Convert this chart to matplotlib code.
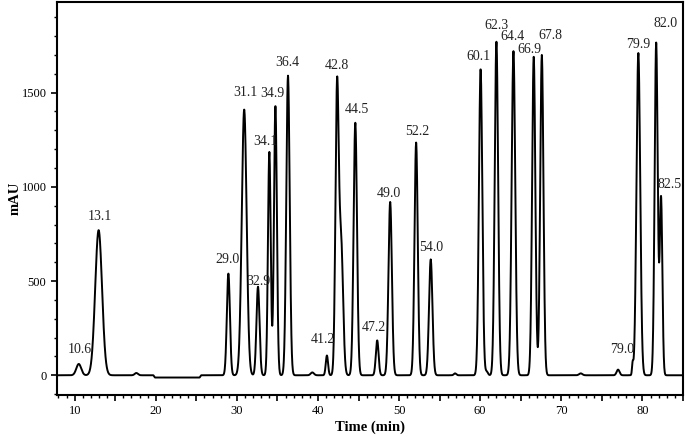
import numpy as np
import matplotlib
matplotlib.use("Agg")
import matplotlib.pyplot as plt
from matplotlib.ticker import MultipleLocator, FuncFormatter

# Peak model (centre min, height mAU, width sigma min)
peak_centres = [10.5, 12.95, 17.6, 28.95, 30.9, 32.6, 34.0, 34.75, 36.3, 39.3, 41.1,
                42.35, 42.85, 44.6, 47.3, 48.9, 52.1, 53.9, 56.9, 60.05, 60.8,
                62.0, 64.1, 66.6, 67.6, 72.4, 77.0, 78.8, 79.5, 81.7, 82.3]
peak_heights = [60, 770, 12, 540, 1410, 470, 1185, 1430, 1590, 15, 105,
                1500, 700, 1340, 185, 920, 1235, 615, 10, 1625, 20,
                1770, 1720, 1690, 1700, 10, 30, 60, 1710, 1765, 940]
peak_sigmas = [0.3, 0.42, 0.2, 0.19, 0.3, 0.19, 0.17, 0.18, 0.21, 0.2, 0.14,
               0.2, 0.24, 0.21, 0.17, 0.21, 0.2, 0.21, 0.15, 0.21, 0.15,
               0.21, 0.22, 0.2, 0.2, 0.2, 0.18, 0.08, 0.23, 0.19, 0.16]

# Baseline drift segments
base_knots_t = [7.7, 19.7, 19.9, 25.4, 25.6, 85.0]
base_knots_v = [0, 0, -12, -12, 0, 0]

# Peak labels (text, label x, label y)
label_texts = ["10.6", "13.1", "29.0", "31.1", "32.9", "34.1", "34.9", "36.4",
               "41.2", "42.8", "44.5", "47.2", "49.0", "52.2", "54.0", "60.1",
               "62.3", "64.4", "66.9", "67.8", "79.0", "79.9", "82.0", "82.5"]
label_x = [10.6, 13.1, 28.9, 31.0, 32.6, 33.5, 34.35, 36.2,
           40.6, 42.35, 44.8, 46.9, 48.75, 52.3, 54.0, 59.8,
           62.0, 64.0, 66.1, 68.7, 77.5, 79.5, 82.9, 83.4]
label_y = [138, 840, 617, 1500, 495, 1240, 1495, 1660,
           190, 1645, 1410, 255, 965, 1295, 680, 1690,
           1855, 1800, 1730, 1805, 138, 1755, 1865, 1010]

plt.rcParams['font.family'] = ['Liberation Serif', 'DejaVu Serif']

t = np.arange(7.7, 85.0, 0.02)
signal = np.interp(t, base_knots_t, base_knots_v)
for c, h, s in zip(peak_centres, peak_heights, peak_sigmas):
    signal = signal + h * np.exp(-0.5 * ((t - c) / s) ** 2)

fig = plt.figure(figsize=(6.85, 4.37), dpi=100)
ax = fig.add_axes([0.083, 0.096, 0.914, 0.899])
ax.plot(t, signal, color='black', lw=1.4)

for txt, x, y in zip(label_texts, label_x, label_y):
    ax.text(x, y, txt, ha='center', va='center', fontsize=10, color='#222222')

ax.set_xlim(7.8, 85.0)
ax.set_ylim(-105, 1980)
ax.xaxis.set_major_locator(MultipleLocator(5))
ax.xaxis.set_minor_locator(MultipleLocator(1))
ax.xaxis.set_major_formatter(FuncFormatter(lambda v, p: f"{int(v)}" if int(round(v)) % 10 == 0 else ""))
ax.yaxis.set_major_locator(MultipleLocator(500))
ax.yaxis.set_minor_locator(MultipleLocator(100))
ax.tick_params(axis='both', which='major', length=4, width=1.2, labelsize=9, direction='out')
ax.tick_params(axis='both', which='minor', length=2, width=1.0, direction='out')
for sp in ax.spines.values():
    sp.set_linewidth(1.5)

ax.set_xlabel("Time (min)", fontsize=10.5, fontweight='bold', labelpad=2)
ax.set_ylabel("mAU", fontsize=10.5, fontweight='bold', labelpad=0)

fig.savefig("out.png", dpi=100)
